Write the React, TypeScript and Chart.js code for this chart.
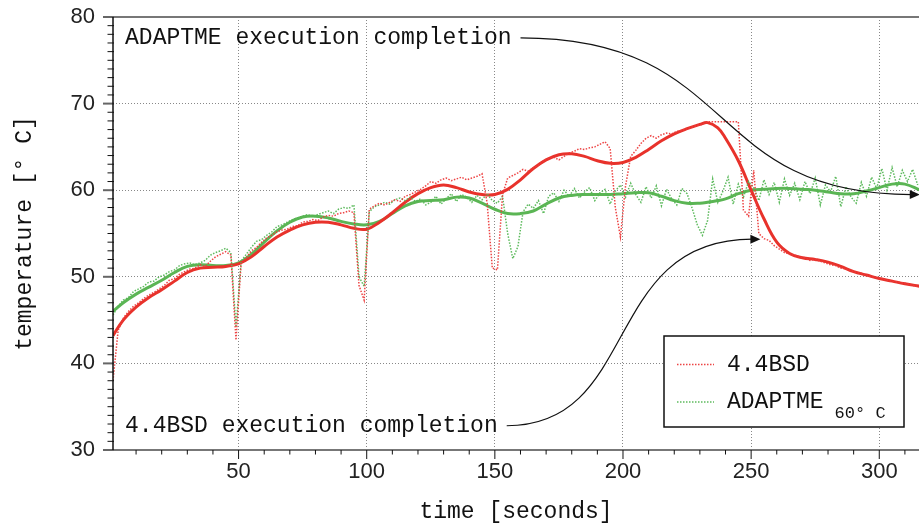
import React, { useEffect, useRef } from "react";
import { Chart, registerables } from "chart.js";

Chart.register(...registerables);

// ---------- data ----------
const SERIES_NAMES = ["4.4BSD", "ADAPTME"];
const LEGEND_NOTE = "60° C";
const X_TITLE = "time [seconds]";
const Y_TITLE = "temperature [° C]";
const X_TICKS = [50, 100, 150, 200, 250, 300];
const Y_TICKS = [30, 40, 50, 60, 70, 80];
const X_MIN = 1;
const X_MAX = 315.5;
const Y_MIN = 30;
const Y_MAX = 80;
const X_MINOR_STEP = 10;
const Y_MINOR_STEP = 1;

// raw samples, taken every RAW_STEP seconds starting at RAW_START
const RAW_START = 1;
const RAW_STEP = 2;
const BSD_RAW = [
  38.0, 43.8, 45.2, 46.0, 46.6, 47.0, 47.5, 47.9, 48.2, 48.6,
  49.0, 49.6, 49.8, 50.3, 50.6, 50.9, 51.0, 51.4, 51.2, 51.8,
  52.3, 52.6, 52.9, 52.5, 42.7, 51.6, 52.2, 53.0, 53.4, 54.0,
  54.5, 54.8, 55.2, 55.4, 55.5, 55.8, 55.9, 56.3, 56.4, 56.6,
  56.5, 56.9, 57.1, 57.0, 57.3, 57.4, 57.6, 57.4, 49.0, 47.3,
  57.8, 58.2, 58.5, 58.3, 58.6, 58.9, 58.7, 59.3, 59.5, 59.8,
  60.1, 60.5, 61.0, 60.8, 61.2, 61.4, 61.1, 61.3, 61.5, 61.2,
  61.4, 61.6, 61.9, 58.5, 51.0, 50.8, 59.5, 61.4, 61.7, 62.0,
  62.4, 62.2, 62.6, 62.9, 63.4, 63.7, 63.8, 63.5, 63.9, 64.3,
  64.5, 64.8, 64.7, 64.9, 65.0, 65.3, 65.6, 64.8, 58.0, 54.6,
  60.5, 63.9, 64.6, 65.4, 66.0, 66.3, 66.0, 66.4, 66.6, 66.5,
  66.8, 66.9, 67.1, 67.3, 67.5, 67.6, 67.9, 67.9, 67.9, 67.9,
  67.9, 67.9, 67.9, 57.7, 57.0, 62.3, 55.0, 54.4, 54.2, 53.6,
  53.2, 52.8, 52.6, 52.5, 52.3, 52.2, 51.9, 52.0, 51.8, 51.6,
  51.4, 51.3, 51.0, 50.9, 50.7, 50.5, 50.4, 50.2, 50.0, 49.9,
  49.8, 49.6, 49.5, 49.4, 49.3, 49.2, 49.0, 48.9,
];
const ADAPTME_RAW = [
  45.6, 46.6, 47.3, 47.6, 48.3, 48.6, 48.9, 49.4, 49.5, 50.0,
  50.2, 50.6, 50.8, 51.3, 51.5, 51.6, 51.4, 51.6, 51.9, 52.5,
  52.8, 53.0, 53.3, 52.8, 44.2, 51.8, 52.6, 53.4, 54.1, 54.3,
  54.8, 55.2, 55.8, 56.0, 56.3, 56.6, 56.8, 57.0, 57.2, 56.9,
  57.2, 57.4, 57.6, 57.3, 57.8, 58.0, 57.9, 58.3, 50.0, 48.9,
  57.5, 58.1, 58.3, 58.6, 58.4, 58.9, 59.1, 58.8, 59.2, 58.7,
  59.0, 58.3, 58.6, 59.3, 58.4, 59.0, 59.6, 58.7, 59.5, 59.2,
  58.6, 59.4, 58.9, 59.6, 58.8, 58.5, 59.3, 55.0, 52.1, 53.5,
  57.5, 58.4, 57.9, 58.8, 57.3, 59.3, 59.7, 58.7, 60.0, 59.3,
  60.2, 59.1, 59.8, 60.3, 58.8, 59.7, 60.1, 58.4, 59.9, 60.6,
  59.2, 60.8, 59.5, 58.6, 60.4, 59.1, 60.5, 58.2, 60.1, 59.0,
  58.3, 60.2, 59.6, 57.9, 56.0, 54.8, 56.5, 61.3, 58.6, 59.9,
  61.5, 58.4, 60.7, 59.2, 61.0, 60.3, 58.8, 61.2, 59.5, 60.9,
  58.6, 61.3, 59.4, 60.8, 58.9, 61.0, 59.6, 61.4, 58.3, 60.6,
  59.8, 61.6, 58.1, 60.4, 59.2, 58.5, 60.9, 59.3, 61.5, 60.2,
  62.5, 60.0, 62.6, 60.4, 62.3, 61.0, 62.4, 60.6,
];

// smoothed curves
const SMOOTH_X = [
  1, 5, 10, 15, 20, 25, 30, 35, 40, 45, 50, 55, 60, 65, 70, 75, 80, 85, 90, 95,
  100, 105, 110, 115, 120, 125, 130, 135, 140, 145, 150, 155, 160, 165, 170, 175,
  180, 185, 190, 195, 200, 205, 210, 215, 220, 225, 230, 233, 237, 240, 245, 250,
  255, 260, 265, 270, 275, 280, 285, 290, 295, 300, 305, 310, 316,
];
const BSD_SMOOTH = [
  43.2, 45.0, 46.5, 47.6, 48.5, 49.5, 50.5, 51.0, 51.1, 51.2, 51.5, 52.3, 53.5, 54.6, 55.4, 56.0, 56.3, 56.3, 56.0, 55.6,
  55.5, 56.3, 57.4, 58.6, 59.6, 60.3, 60.6, 60.3, 59.8, 59.5, 59.5, 60.1, 61.2, 62.5, 63.5, 64.1,
  64.2, 63.9, 63.4, 63.1, 63.2, 63.8, 64.7, 65.7, 66.5, 67.1, 67.6, 67.8, 67.2, 66.0, 63.4, 60.0,
  56.7, 54.0, 52.7, 52.2, 52.0, 51.7, 51.2, 50.6, 50.2, 49.8, 49.5, 49.2, 48.9,
];
const ADAPTME_SMOOTH = [
  46.0, 47.0, 48.0, 48.8, 49.6, 50.5, 51.2, 51.4, 51.3, 51.3, 51.6, 52.6, 54.0, 55.3, 56.3, 56.9, 57.0, 56.8, 56.4, 56.1,
  56.0, 56.4, 57.3, 58.2, 58.7, 58.8, 58.9, 59.2, 59.1, 58.5, 57.8, 57.3, 57.3, 57.6, 58.4, 59.1,
  59.4, 59.5, 59.5, 59.5, 59.6, 59.7, 59.7, 59.3, 58.8, 58.5, 58.5, 58.6, 58.8, 59.0, 59.6, 60.0,
  60.1, 60.2, 60.2, 60.1, 60.0, 59.8, 59.6, 59.6, 59.9, 60.3, 60.7, 60.7, 60.0,
];

// annotations (data coordinates)
const ANNOTATIONS = [
  { text: "ADAPTME execution completion", at: [5.7, 77.6], c1: [246.2, 77.6], c2: [230.5, 59.5], tip: [315.8, 59.5] },
  { text: "4.4BSD execution completion", at: [5.7, 32.8], c1: [207.1, 32.8], c2: [191.4, 54.35], tip: [253.6, 54.35] },
];

// ---------- styles ----------
const RED = "#e8322b";
const GREEN = "#5bb554";
const RED_RAW = "rgba(236,58,58,0.95)";
const GREEN_RAW = "rgba(84,182,84,0.95)";
const MONO = "'Liberation Mono', 'DejaVu Sans Mono', monospace";
const SANS = "'Liberation Sans', Arial, sans-serif";

const rawPoints = (vals: number[]) => vals.map((v, i) => ({ x: RAW_START + RAW_STEP * i, y: v }));
const smoothPoints = (vals: number[]) => vals.map((v, i) => ({ x: SMOOTH_X[i], y: v }));

const decorPlugin = {
  id: "decor",
  afterDraw(chart: any) {
    const { ctx, chartArea: a } = chart;
    const xs = chart.scales.x;
    const ys = chart.scales.y;
    ctx.save();

    // annotations
    ctx.font = `23px ${MONO}`;
    ctx.fillStyle = "#111";
    ctx.strokeStyle = "#111";
    ctx.textBaseline = "middle";
    ctx.textAlign = "left";
    for (const an of ANNOTATIONS) {
      const tx = xs.getPixelForValue(an.at[0]);
      const ty = ys.getPixelForValue(an.at[1]);
      ctx.fillText(an.text, tx, ty);
      const w = ctx.measureText(an.text).width;
      const sx = tx + w + 9;
      const c1x = xs.getPixelForValue(an.c1[0]);
      const c1y = ys.getPixelForValue(an.c1[1]);
      const c2x = xs.getPixelForValue(an.c2[0]);
      const c2y = ys.getPixelForValue(an.c2[1]);
      const px = xs.getPixelForValue(an.tip[0]);
      const py = ys.getPixelForValue(an.tip[1]);
      ctx.lineWidth = 1.2;
      ctx.beginPath();
      ctx.moveTo(sx, ty);
      ctx.bezierCurveTo(c1x, c1y, c2x, c2y, px - 8, py);
      ctx.stroke();
      ctx.beginPath();
      ctx.moveTo(px, py);
      ctx.lineTo(px - 10, py - 4.5);
      ctx.lineTo(px - 10, py + 4.5);
      ctx.closePath();
      ctx.fill();
    }

    // legend box
    const bw = 240, bh = 91;
    const bx = a.right - 15 - bw;
    const by = a.bottom - 23 - bh;
    ctx.fillStyle = "#fff";
    ctx.fillRect(bx, by, bw, bh);
    ctx.lineWidth = 1.5;
    ctx.strokeStyle = "#111";
    ctx.strokeRect(bx, by, bw, bh);
    const rows = [
      { name: SERIES_NAMES[0], color: RED_RAW, y: by + 28.5 },
      { name: SERIES_NAMES[1], color: GREEN_RAW, y: by + 66 },
    ];
    for (const r of rows) {
      ctx.save();
      ctx.strokeStyle = r.color;
      ctx.lineWidth = 1.5;
      ctx.setLineDash([1.5, 1.5]);
      ctx.beginPath();
      ctx.moveTo(bx + 13, r.y);
      ctx.lineTo(bx + 50, r.y);
      ctx.stroke();
      ctx.restore();
      ctx.fillStyle = "#111";
      ctx.font = `23px ${MONO}`;
      ctx.fillText(r.name, bx + 63, r.y);
    }
    const aw = ctx.measureText(SERIES_NAMES[1]).width;
    ctx.font = `17px ${MONO}`;
    ctx.fillText(LEGEND_NOTE, bx + 63 + aw + 11, by + 77.5);

    // frame
    ctx.lineWidth = 2;
    ctx.strokeStyle = "#777";
    ctx.beginPath();
    ctx.moveTo(a.left - 10, a.top);
    ctx.lineTo(a.right, a.top);
    ctx.moveTo(a.left, a.bottom);
    ctx.lineTo(a.right, a.bottom);
    ctx.stroke();

    // y ticks
    for (let v = Y_MIN; v <= Y_MAX; v += Y_MINOR_STEP) {
      const p = ys.getPixelForValue(v);
      const major = Y_TICKS.includes(v);
      ctx.lineWidth = major ? 2 : 1;
      ctx.strokeStyle = major ? "#666" : "#111";
      ctx.beginPath();
      ctx.moveTo(a.left - (major ? 10 : 5.5), p);
      ctx.lineTo(a.left + 1, p);
      ctx.stroke();
    }
    // x ticks
    for (let v = X_MINOR_STEP; v <= X_MAX; v += X_MINOR_STEP) {
      const p = xs.getPixelForValue(v);
      const major = X_TICKS.includes(v);
      ctx.lineWidth = 1;
      ctx.strokeStyle = "#111";
      ctx.beginPath();
      ctx.moveTo(p, a.bottom);
      ctx.lineTo(p, a.bottom + (major ? 9 : 4.5));
      ctx.stroke();
    }
    // left axis
    ctx.lineWidth = 1.5;
    ctx.strokeStyle = "#111";
    ctx.beginPath();
    ctx.moveTo(a.left, a.top);
    ctx.lineTo(a.left, a.bottom);
    ctx.stroke();

    ctx.restore();
  },
};

export default function App() {
  const ref = useRef<HTMLCanvasElement | null>(null);

  useEffect(() => {
    if (!ref.current) return;
    const chart = new Chart(ref.current, {
      type: "line",
      data: {
        datasets: [
          {
            label: SERIES_NAMES[0],
            data: rawPoints(BSD_RAW),
            borderColor: RED_RAW,
            borderWidth: 1.5,
            borderDash: [1.5, 1.5],
            pointRadius: 0,
            tension: 0,
          },
          {
            label: SERIES_NAMES[1],
            data: rawPoints(ADAPTME_RAW),
            borderColor: GREEN_RAW,
            borderWidth: 1.5,
            borderDash: [1.5, 1.5],
            pointRadius: 0,
            tension: 0,
          },
          {
            label: SERIES_NAMES[0] + " smooth",
            data: smoothPoints(BSD_SMOOTH),
            borderColor: RED,
            borderWidth: 3,
            pointRadius: 0,
            tension: 0.4,
          },
          {
            label: SERIES_NAMES[1] + " smooth",
            data: smoothPoints(ADAPTME_SMOOTH),
            borderColor: GREEN,
            borderWidth: 3,
            pointRadius: 0,
            tension: 0.4,
          },
        ],
      },
      options: {
        animation: false,
        responsive: false,
        events: [],
        layout: { padding: { top: 17, left: 0, right: 0, bottom: 0 } },
        plugins: { legend: { display: false }, tooltip: { enabled: false } },
        scales: {
          x: {
            type: "linear",
            min: X_MIN,
            max: X_MAX,
            afterBuildTicks: (s: any) => {
              s.ticks = X_TICKS.map((v) => ({ value: v }));
            },
            afterFit: (s: any) => {
              s.height = 77;
              s.paddingLeft = 0;
              s.paddingRight = 0;
            },
            grid: { color: "#888", lineWidth: 1, drawTicks: false },
            border: { display: false, dash: [1, 2] },
            ticks: {
              autoSkip: false,
              maxRotation: 0,
              padding: 8.5,
              color: "#222",
              font: { family: SANS, size: 22 },
            },
            title: {
              display: true,
              text: X_TITLE,
              color: "#111",
              font: { family: MONO, size: 23 },
              padding: { top: 0, bottom: 1 },
            },
          },
          y: {
            type: "linear",
            min: Y_MIN,
            max: Y_MAX,
            afterBuildTicks: (s: any) => {
              s.ticks = Y_TICKS.map((v) => ({ value: v }));
            },
            afterFit: (s: any) => {
              s.width = 113;
              s.paddingTop = 0;
              s.paddingBottom = 0;
            },
            grid: { color: "#888", lineWidth: 1, drawTicks: false },
            border: { display: false, dash: [1, 2] },
            ticks: {
              autoSkip: false,
              padding: 18,
              color: "#222",
              font: { family: SANS, size: 22 },
            },
            title: {
              display: true,
              text: Y_TITLE,
              color: "#111",
              font: { family: MONO, size: 23 },
              padding: { top: 11, bottom: 0 },
            },
          },
        },
      },
      plugins: [decorPlugin],
    });
    return () => chart.destroy();
  }, []);

  return (
    <div style={{ position: "absolute", left: 0, top: 0, width: 919, height: 527, background: "#fff" }}>
      <canvas ref={ref} width={919} height={527} style={{ display: "block" }} />
    </div>
  );
}
